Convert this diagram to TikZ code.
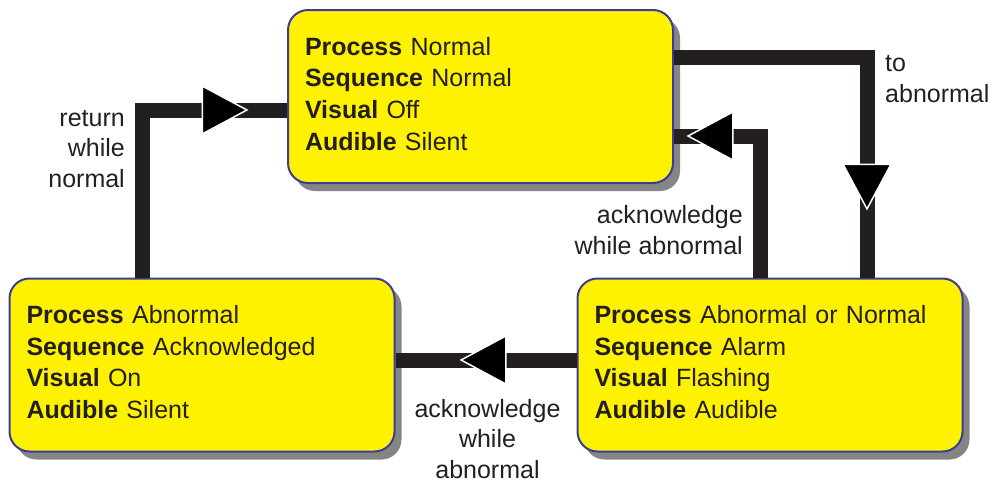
\documentclass[tikz,border=0pt]{standalone}
\usepackage{fontspec}
\setmainfont{Liberation Sans}
\usetikzlibrary{arrows.meta, shadows, decorations.markings}
\definecolor{stateFill}{RGB}{255,242,0}
\definecolor{stateEdge}{RGB}{60,60,150}
\definecolor{wireInk}{RGB}{35,31,32}
\tikzstyle{sState} = [rectangle, rounded corners=20pt, minimum height=173pt, text width=351pt, inner xsep=17pt, align=left, draw=stateEdge, line width=2pt, fill=stateFill, text=wireInk, font=\fontsize{25}{31.7}\selectfont, drop shadow={shadow xshift=7pt, shadow yshift=-8pt, fill=black!48, opacity=1}]
\tikzstyle{sWire} = [line width=15pt, draw=wireInk, line join=miter]
\tikzstyle{sLabel} = [inner sep=0pt, text=wireInk, font=\fontsize{25}{30.5}\selectfont]
\tikzset{sHeadAt/.style={postaction={decorate, decoration={markings, mark=at position #1 with {\arrow{>}}}}}}

\begin{document}
\begin{tikzpicture}[x=1pt, y=-1pt, >={Triangle[length=47pt, width=50pt, line width=1.5pt, color=white, fill=black]}]
    \useasboundingbox (0,0) rectangle (993,483);
    % states
    \node (normal) [sState] at (480.5,96.5) {\textbf{Process} Normal\\\textbf{Sequence} Normal\\\textbf{Visual} Off\\\textbf{Audible} Silent\rule[-6pt]{0pt}{0pt}};
    \node (acked) [sState] at (202,365) {\textbf{Process} Abnormal\\\textbf{Sequence} Acknowledged\\\textbf{Visual} On\\\textbf{Audible} Silent\rule[-6pt]{0pt}{0pt}};
    \node (alarm) [sState] at (770,365) {\textbf{Process} Abnormal or Normal\\\textbf{Sequence} Alarm\\\textbf{Visual} Flashing\\\textbf{Audible} Audible\rule[-6pt]{0pt}{0pt}};

    % transitions
    \draw [sWire, sHeadAt=274pt] ([xshift=-60pt]acked.north) |- ([yshift=-13.5pt]normal.west);
    \draw [sWire, sHeadAt=346pt] ([yshift=39pt]normal.east) -| ([xshift=97pt]alarm.north);
    \draw [sWire, sHeadAt=215pt] ([xshift=-10pt]alarm.north) |- ([yshift=-39.5pt]normal.east);
    \draw [sWire, sHeadAt=117pt] ([yshift=5pt]alarm.west) -- ([yshift=5pt]acked.east);

    % labels (base = last line)
    \node (lblreturn) [sLabel, anchor=base east, align=right] at (125,187) {return\\while\\normal};
    \node (lblabnormal) [sLabel, anchor=base west, align=left] at (885,102) {to\\abnormal};
    \node (lblackup) [sLabel, anchor=base east, align=right] at (743,254) {acknowledge\\while abnormal};
    \node (lblackleft) [sLabel, anchor=base, align=center] at (487.5,478) {acknowledge\\while\\abnormal};
\end{tikzpicture}
\end{document}
